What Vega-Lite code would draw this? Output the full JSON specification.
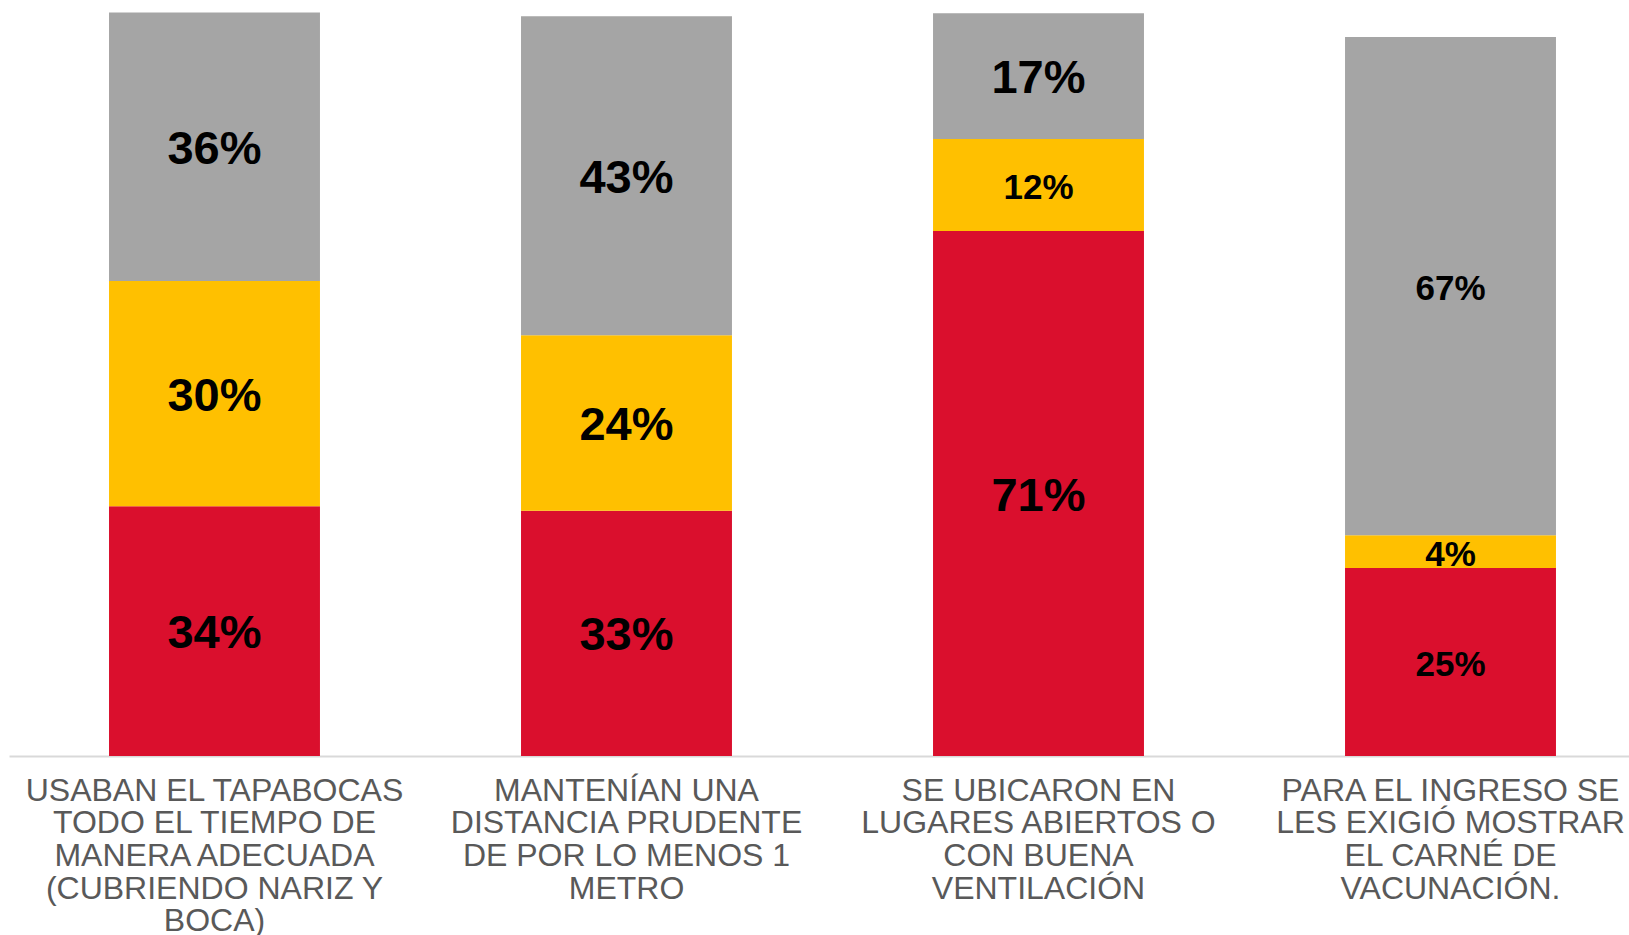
{
  "$schema": "https://vega.github.io/schema/vega-lite/v6.json",
  "autosize": {"type": "none"},
  "width": 1620,
  "height": 743.5,
  "padding": {"left": 9, "top": 12.5, "right": 0, "bottom": 179},
  "background": "white",
  "config": {"view": {"stroke": null}, "font": "Liberation Sans"},
  "data": {
    "values": [
      {"cat": "USABAN EL TAPABOCAS\nTODO EL TIEMPO DE\nMANERA ADECUADA\n(CUBRIENDO NARIZ Y\nBOCA)", "seg": "s1", "ord": 1, "v": 0.336},
      {"cat": "USABAN EL TAPABOCAS\nTODO EL TIEMPO DE\nMANERA ADECUADA\n(CUBRIENDO NARIZ Y\nBOCA)", "seg": "s2", "ord": 2, "v": 0.303},
      {"cat": "USABAN EL TAPABOCAS\nTODO EL TIEMPO DE\nMANERA ADECUADA\n(CUBRIENDO NARIZ Y\nBOCA)", "seg": "s3", "ord": 3, "v": 0.361},
      {"cat": "MANTENÍAN UNA\nDISTANCIA PRUDENTE\nDE POR LO MENOS 1\nMETRO", "seg": "s1", "ord": 1, "v": 0.330},
      {"cat": "MANTENÍAN UNA\nDISTANCIA PRUDENTE\nDE POR LO MENOS 1\nMETRO", "seg": "s2", "ord": 2, "v": 0.236},
      {"cat": "MANTENÍAN UNA\nDISTANCIA PRUDENTE\nDE POR LO MENOS 1\nMETRO", "seg": "s3", "ord": 3, "v": 0.429},
      {"cat": "SE UBICARON EN\nLUGARES ABIERTOS O\nCON BUENA\nVENTILACIÓN", "seg": "s1", "ord": 1, "v": 0.706},
      {"cat": "SE UBICARON EN\nLUGARES ABIERTOS O\nCON BUENA\nVENTILACIÓN", "seg": "s2", "ord": 2, "v": 0.124},
      {"cat": "SE UBICARON EN\nLUGARES ABIERTOS O\nCON BUENA\nVENTILACIÓN", "seg": "s3", "ord": 3, "v": 0.169},
      {"cat": "PARA EL INGRESO SE\nLES EXIGIÓ MOSTRAR\nEL CARNÉ DE\nVACUNACIÓN.", "seg": "s1", "ord": 1, "v": 0.253},
      {"cat": "PARA EL INGRESO SE\nLES EXIGIÓ MOSTRAR\nEL CARNÉ DE\nVACUNACIÓN.", "seg": "s2", "ord": 2, "v": 0.044},
      {"cat": "PARA EL INGRESO SE\nLES EXIGIÓ MOSTRAR\nEL CARNÉ DE\nVACUNACIÓN.", "seg": "s3", "ord": 3, "v": 0.670}
    ]
  },
  "transform": [
    {"stack": "v", "groupby": ["cat"], "sort": [{"field": "ord", "order": "ascending"}], "as": ["v0", "v1"]},
    {"calculate": "(datum.v0 + datum.v1) / 2", "as": "mid"}
  ],
  "encoding": {
    "x": {
      "field": "cat",
      "type": "nominal",
      "sort": null,
      "scale": {"paddingInner": 0.488, "paddingOuter": 0.21, "align": 0.578},
      "axis": {
        "title": null,
        "ticks": false,
        "domainColor": "#D9D9D9",
        "domainWidth": 2,
        "labelAngle": 0,
        "labelFont": "Liberation Sans",
        "labelFontSize": 32,
        "labelColor": "#595959",
        "labelLineHeight": 32.7,
        "labelPadding": 19,
        "labelLimit": 0,
        "labelOverlap": false,
        "labelExpr": "split(datum.label, '\\n')"
      }
    }
  },
  "layer": [
    {
      "mark": {"type": "bar"},
      "encoding": {
        "y": {"field": "v0", "type": "quantitative", "scale": {"domain": [0, 1], "nice": false}, "axis": null},
        "y2": {"field": "v1"},
        "color": {
          "field": "seg",
          "type": "nominal",
          "scale": {"domain": ["s1", "s2", "s3"], "range": ["#DA0F2D", "#FFC000", "#A5A5A5"]},
          "legend": null
        }
      }
    },
    {
      "mark": {"type": "text", "font": "Liberation Sans", "fontWeight": "bold", "color": "#000000", "baseline": "middle", "align": "center", "dy": 3},
      "encoding": {
        "y": {"field": "mid", "type": "quantitative"},
        "text": {"field": "v", "type": "quantitative", "format": ".0%"},
        "size": {
          "condition": {"test": "datum.v < 0.15 || indexof(datum.cat, 'PARA') === 0", "value": 35},
          "value": 47
        }
      }
    }
  ]
}
